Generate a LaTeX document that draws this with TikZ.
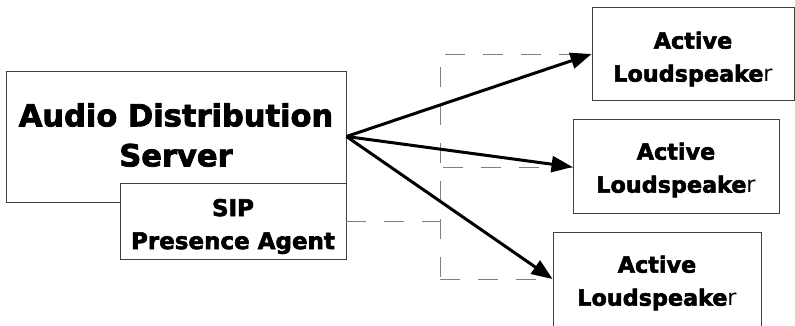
\documentclass[tikz,border=0pt]{standalone}
\usepackage{fontspec}
\setmainfont{DejaVu Sans}[BoldFeatures={FakeBold=2.5}]
\usetikzlibrary{arrows.meta}
\tikzset{
  box/.style={draw=black!75, line width=0.9pt, fill=white, rectangle, inner sep=0pt},
  label text/.style={inner sep=0pt, align=center},
  spktext/.style={label text, font=\fontsize{22.3}{33}\selectfont\bfseries},
  bus/.style={draw=black!50, line width=0.9pt, dash pattern=on 20pt off 18pt},
  feed/.style={line width=3pt, -{Triangle[length=21pt,width=16pt]}},
}
\newcommand{\spkname}{Active\\Loudspeake\mdseries r}
\begin{document}
\begin{tikzpicture}[x=1pt,y=-1pt]
  \useasboundingbox (0,0) rectangle (795,326);
  \clip (0,0) rectangle (795,326);

  % loudspeakers
  \node[box, minimum width=202pt, minimum height=93pt] (ls1) at (693,53.5) {};
  \node[spktext] (ls1t) at (693,59) {\spkname};
  \node[box, minimum width=206pt, minimum height=94pt] (ls2) at (676,166) {};
  \node[spktext] (ls2t) at (676,170) {\spkname};
  \node[box, minimum width=208pt, minimum height=100pt] (ls3) at (657,282) {};
  \node[spktext] (ls3t) at (657,283) {\spkname};

  % server with its presence agent
  \node[box, minimum width=340pt, minimum height=131pt] (srv) at (176,136.5) {};
  \node[label text, font=\fontsize{30.5}{40}\selectfont\bfseries] (srvt) at (176,135)
    {Audio Distribution\\Server};
  \node[box, minimum width=226pt, minimum height=76pt] (sip) at (233,221) {};
  \node[label text, font=\fontsize{23}{33}\selectfont\bfseries] (sipt) at (233,226.5)
    {SIP\\Presence Agent};

  % presence signalling bus
  \coordinate (j0) at (440,221);
  \coordinate (j1) at (440,67);
  \coordinate (j3) at (440,279);
  \coordinate (h1) at (445,54);
  \coordinate (h2) at (443,167);
  \draw[bus] (sip.east) -- (j0);
  \draw[bus] (j1) -- (j3);
  \draw[bus] (h1) -- (ls1.west |- h1);
  \draw[bus] (h2) -- (ls2.west |- h2);
  \draw[bus] (j3) -- (ls3.west |- j3);

  % audio feeds
  \draw[feed] (srv.east) -- (ls1.west |- h1);
  \draw[feed] (srv.east) -- (ls2.west |- h2);
  \draw[feed] (srv.east) -- (ls3.west |- j3);
\end{tikzpicture}
\end{document}
